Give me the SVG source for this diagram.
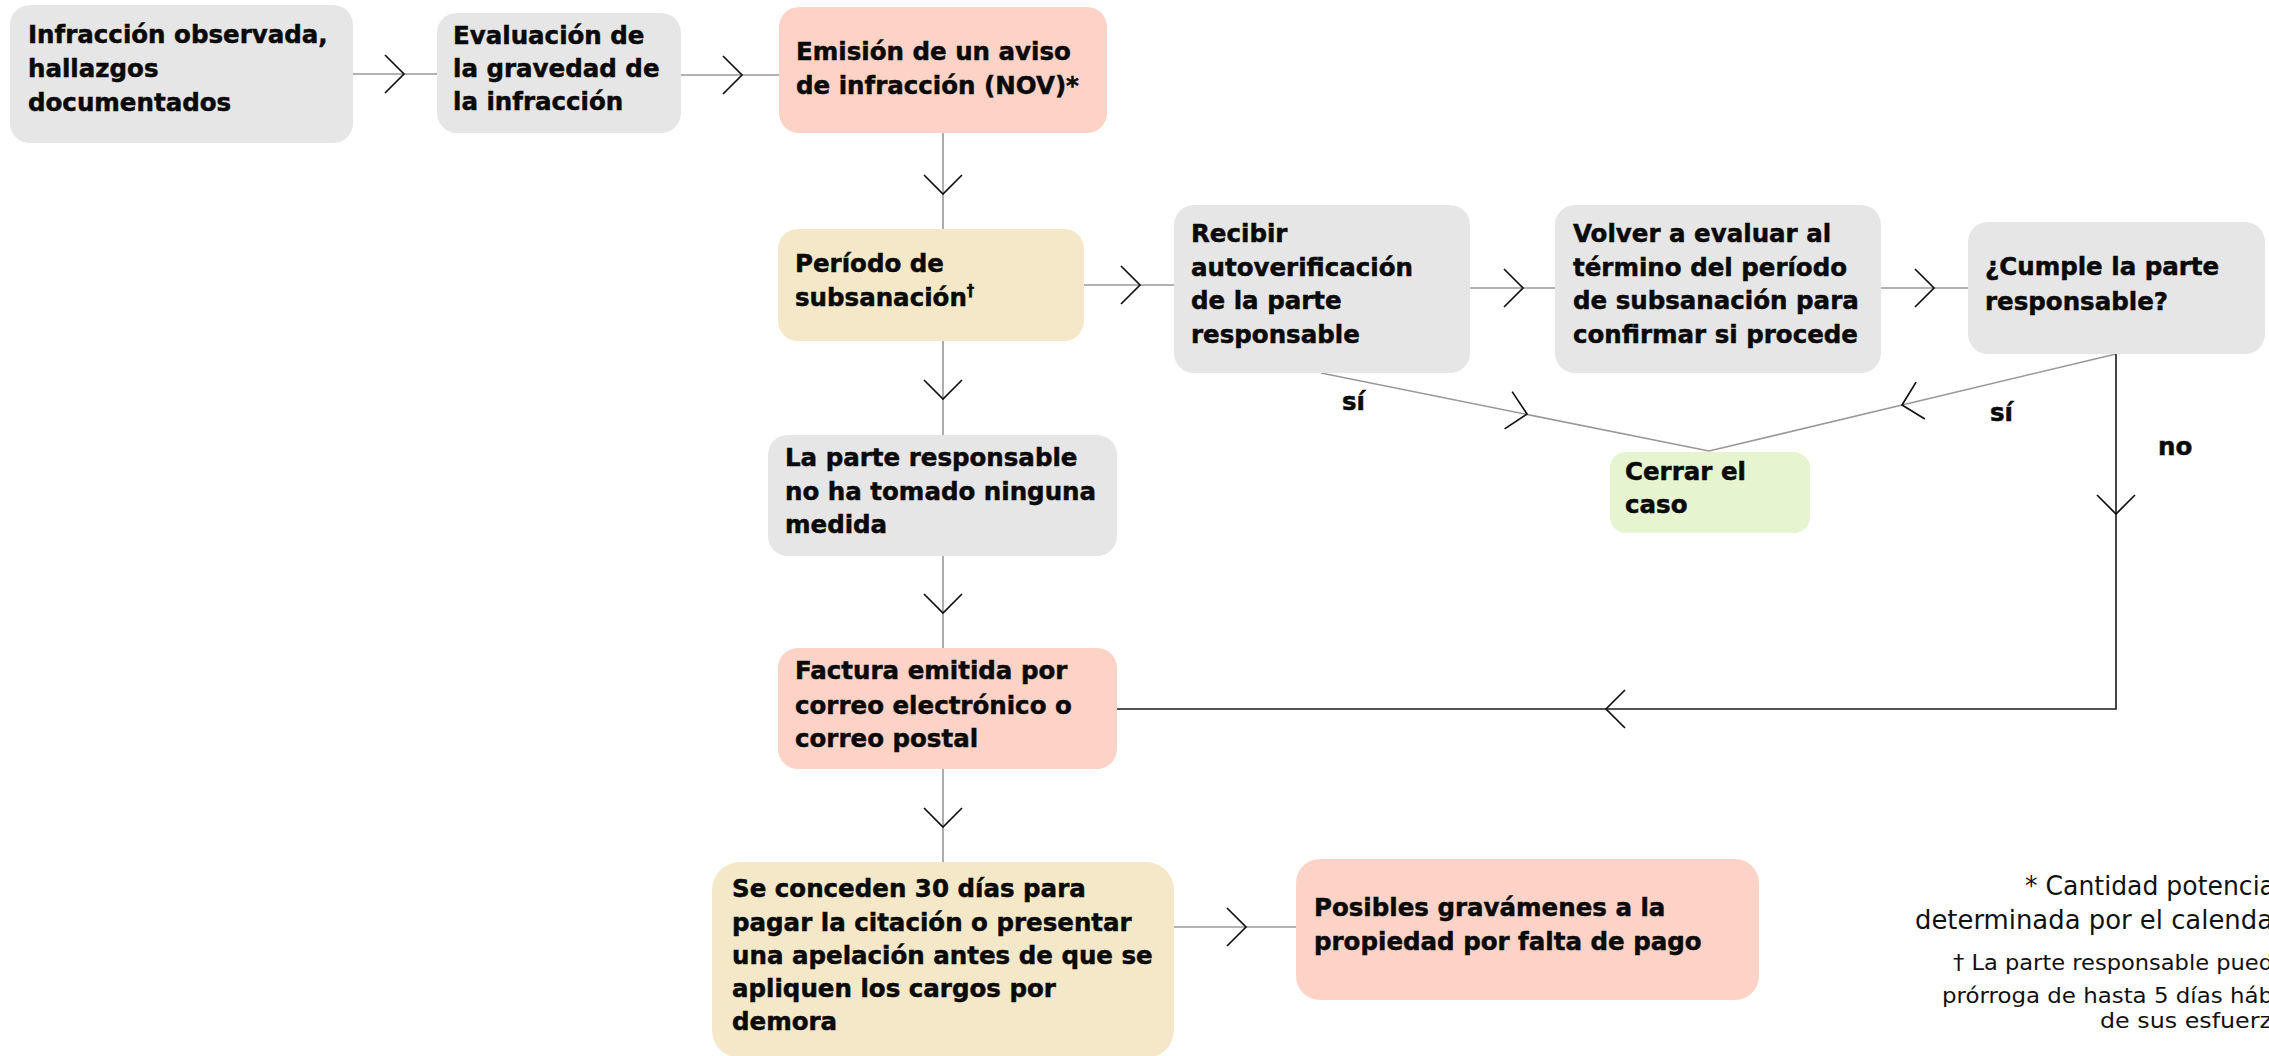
<svg xmlns="http://www.w3.org/2000/svg" xmlns:xlink="http://www.w3.org/1999/xlink" width="2269" height="1056" viewBox="0 0 2269 1056">
<style>
.grey{fill:#e6e6e6}
.pink{fill:#fdd3c7}
.beige{fill:#f4e8c9}
.green{fill:#e6f4cf}
.t{font-family:"DejaVu Sans","Noto Sans","Liberation Sans",sans-serif;font-weight:700;font-size:24.5px;fill:#0a0a0a;stroke:#0a0a0a;stroke-width:0.5px}
.f{font-family:"DejaVu Sans","Noto Sans","Liberation Sans",sans-serif;font-weight:400;fill:#111}
.ln{fill:none;stroke:#999;stroke-width:1.6}
.dk{fill:none;stroke:#1a1a1a;stroke-width:1.6}
.ch{fill:none;stroke:#111;stroke-width:1.7}
</style>
<defs>
<path id="chev" class="ch" d="M-19,-19 L0,0 L-19,19"/>
</defs>
<rect width="2269" height="1056" fill="#fff"/>

<g id="connectors">
<path class="ln" d="M353,74 H437"/>
<path class="ln" d="M681,75 H779"/>
<path class="ln" d="M943,133 V229"/>
<path class="ln" d="M943,341 V435"/>
<path class="ln" d="M943,556 V648"/>
<path class="ln" d="M943,769 V862"/>
<path class="ln" d="M1084,285 H1174"/>
<path class="ln" d="M1470,288 H1555"/>
<path class="ln" d="M1881,288 H1968"/>
<path class="ln" d="M1321,373 L1709,451"/>
<path class="ln" d="M2116,354 L1709,451"/>
<path class="dk" d="M2116,354 V709 H1117"/>
<path class="ln" d="M1174,927 H1296"/>
<use xlink:href="#chev" transform="translate(404,74)"/>
<use xlink:href="#chev" transform="translate(742,75)"/>
<use xlink:href="#chev" transform="translate(943,194) rotate(90)"/>
<use xlink:href="#chev" transform="translate(943,399) rotate(90)"/>
<use xlink:href="#chev" transform="translate(943,613) rotate(90)"/>
<use xlink:href="#chev" transform="translate(943,827) rotate(90)"/>
<use xlink:href="#chev" transform="translate(1140,285)"/>
<use xlink:href="#chev" transform="translate(1523,288)"/>
<use xlink:href="#chev" transform="translate(1934,288)"/>
<use xlink:href="#chev" transform="translate(1527,414) rotate(11.4)"/>
<use xlink:href="#chev" transform="translate(1902,405) rotate(166.6)"/>
<use xlink:href="#chev" transform="translate(2116,514) rotate(90)"/>
<use xlink:href="#chev" transform="translate(1606,709) rotate(180)"/>
<use xlink:href="#chev" transform="translate(1246,927)"/>
<text class="t" x="1342" y="410">sí</text>
<text class="t" x="1990" y="421">sí</text>
<text class="t" x="2158" y="455">no</text>
</g>

<g id="n1"><rect class="grey" x="10" y="5" width="343" height="138" rx="20"/>
<text class="t" x="28" y="43">Infracción observada,</text>
<text class="t" x="28" y="77">hallazgos</text>
<text class="t" x="28" y="111">documentados</text></g>

<g id="n2"><rect class="grey" x="437" y="13" width="244" height="120" rx="20"/>
<text class="t" x="453" y="44">Evaluación de</text>
<text class="t" x="453" y="77">la gravedad de</text>
<text class="t" x="453" y="110">la infracción</text></g>

<g id="n3"><rect class="pink" x="779" y="7" width="328" height="126" rx="20"/>
<text class="t" x="796" y="60">Emisión de un aviso</text>
<text class="t" x="796" y="94">de infracción (NOV)*</text></g>

<g id="n4"><rect class="beige" x="778" y="229" width="306" height="112" rx="20"/>
<text class="t" x="795" y="272">Período de</text>
<text class="t" x="795" y="306">subsanación<tspan font-size="15" dy="-10">†</tspan></text></g>

<g id="n5"><rect class="grey" x="1174" y="205" width="296" height="168" rx="20"/>
<text class="t" x="1191" y="242">Recibir</text>
<text class="t" x="1191" y="276">autoverificación</text>
<text class="t" x="1191" y="309">de la parte</text>
<text class="t" x="1191" y="343">responsable</text></g>

<g id="n6"><rect class="grey" x="1555" y="205" width="326" height="168" rx="20"/>
<text class="t" x="1573" y="242">Volver a evaluar al</text>
<text class="t" x="1573" y="276">término del período</text>
<text class="t" x="1573" y="309">de subsanación para</text>
<text class="t" x="1573" y="343">confirmar si procede</text></g>

<g id="n7"><rect class="grey" x="1968" y="222" width="297" height="132" rx="20"/>
<text class="t" x="1985" y="275">¿Cumple la parte</text>
<text class="t" x="1985" y="310">responsable?</text></g>

<g id="n8"><rect class="grey" x="768" y="435" width="349" height="121" rx="20"/>
<text class="t" x="785" y="466">La parte responsable</text>
<text class="t" x="785" y="500">no ha tomado ninguna</text>
<text class="t" x="785" y="533">medida</text></g>

<g id="n9"><rect class="green" x="1610" y="452" width="200" height="81" rx="16"/>
<text class="t" x="1625" y="480">Cerrar el</text>
<text class="t" x="1625" y="513">caso</text></g>

<g id="n10"><rect class="pink" x="778" y="648" width="339" height="121" rx="20"/>
<text class="t" x="795" y="679">Factura emitida por</text>
<text class="t" x="795" y="714">correo electrónico o</text>
<text class="t" x="795" y="747">correo postal</text></g>

<g id="n11"><rect class="beige" x="712" y="862" width="462" height="196" rx="28"/>
<text class="t" x="732" y="897">Se conceden 30 días para</text>
<text class="t" x="732" y="931">pagar la citación o presentar</text>
<text class="t" x="732" y="964">una apelación antes de que se</text>
<text class="t" x="732" y="997">apliquen los cargos por</text>
<text class="t" x="732" y="1030">demora</text></g>

<g id="n12"><rect class="pink" x="1296" y="859" width="463" height="141" rx="24"/>
<text class="t" x="1314" y="916">Posibles gravámenes a la</text>
<text class="t" x="1314" y="950">propiedad por falta de pago</text></g>

<g id="notes">
<text class="f" font-size="26" x="2025" y="895" textLength="250" lengthAdjust="spacingAndGlyphs">* Cantidad potencia</text>
<text class="f" font-size="26" x="1915" y="929" textLength="358" lengthAdjust="spacingAndGlyphs">determinada por el calenda</text>
<text class="f" font-size="22" x="1953" y="970" textLength="320" lengthAdjust="spacingAndGlyphs">† La parte responsable pued</text>
<text class="f" font-size="22" x="1942" y="1003" textLength="331" lengthAdjust="spacingAndGlyphs">prórroga de hasta 5 días háb</text>
<text class="f" font-size="22" x="2100" y="1028" textLength="172" lengthAdjust="spacingAndGlyphs">de sus esfuerz</text>
</g>
</svg>
